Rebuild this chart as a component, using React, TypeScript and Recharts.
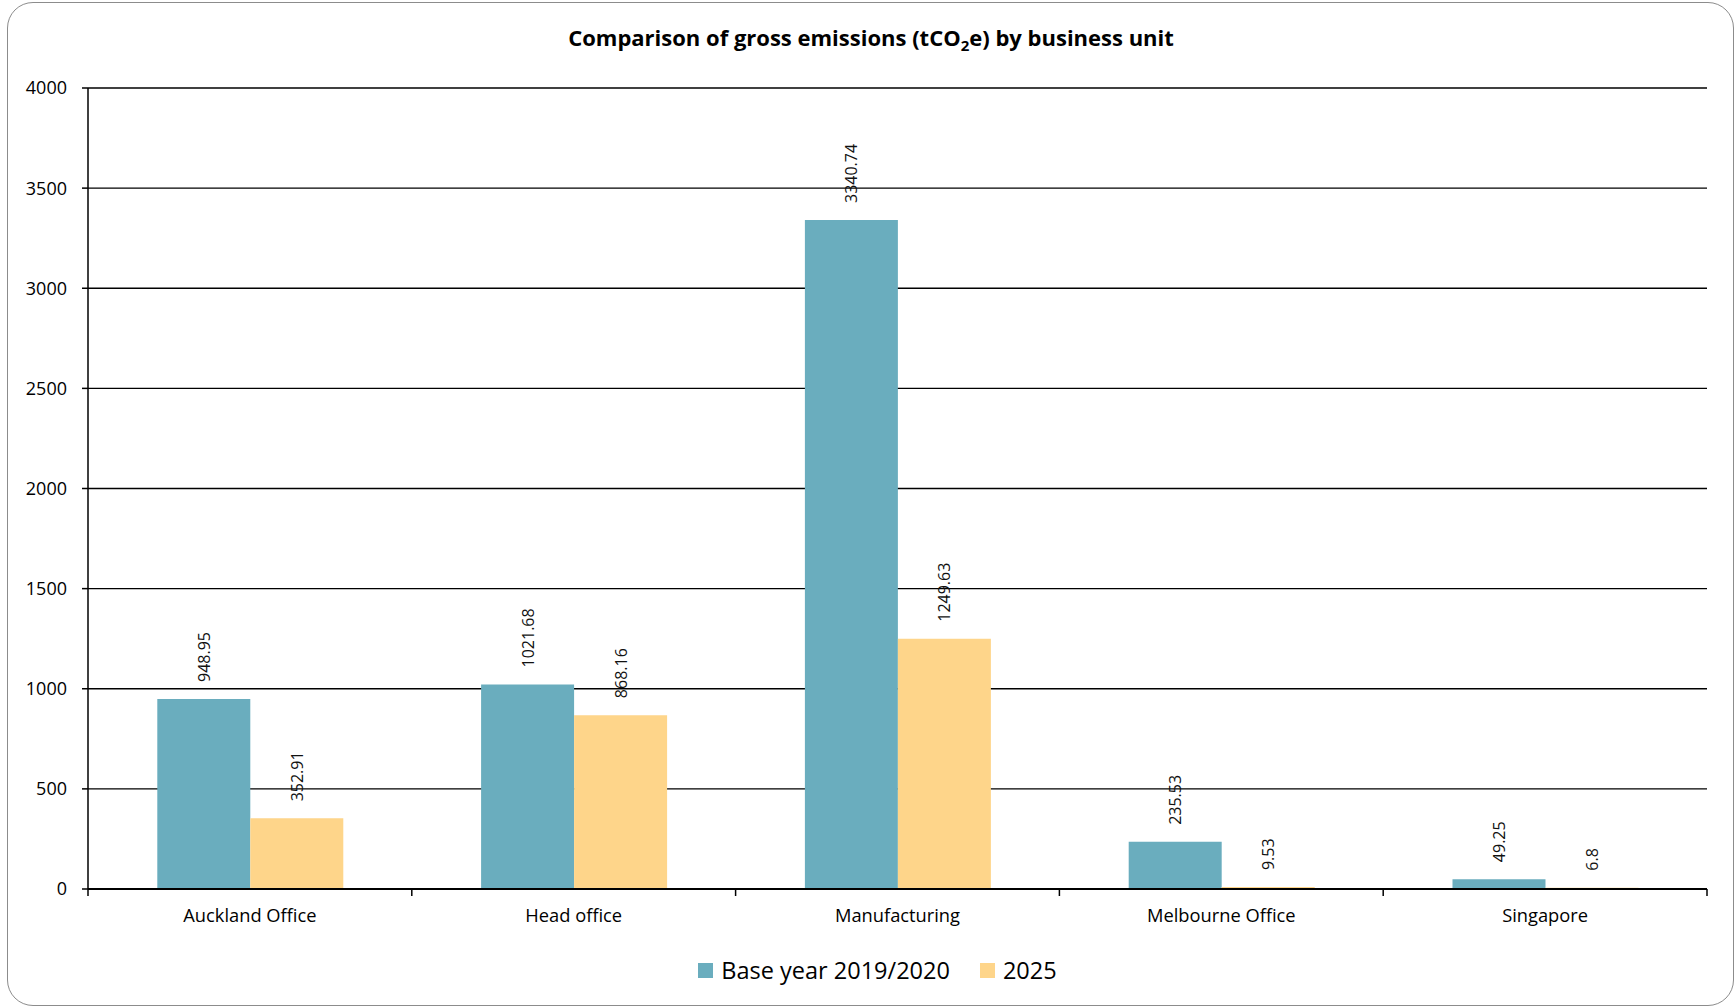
import React from 'react';
import {
  BarChart,
  Bar,
  XAxis,
  YAxis,
  CartesianGrid,
  Legend,
  LabelList
} from 'recharts';

const units = ['Auckland Office', 'Head office', 'Manufacturing', 'Melbourne Office', 'Singapore'];
const baseYear = [948.95, 1021.68, 3340.74, 235.53, 49.25];
const year2025 = [352.91, 868.16, 1249.63, 9.53, 6.8];
const yTicks = [0, 500, 1000, 1500, 2000, 2500, 3000, 3500, 4000];
const seriesOrder = ['base', 'y2025'];

const BLUE = '#6AADBE';
const ORANGE = '#FED58A';
const FONT = '"Open Sans", sans-serif';

const data = units.map((unit, i) => ({
  unit,
  base: baseYear[i],
  y2025: year2025[i]
}));

const CategoryTick = (props: any) => {
  const { x, y, payload, index, visibleTicksCount } = props;
  const half = payload.offset ?? 0;
  const last = index === visibleTicksCount - 1;
  return (
    <g>
      <line x1={x - half} x2={x - half} y1={y} y2={y + 7} stroke="#000" strokeWidth={1.5} />
      {last && <line x1={x + half} x2={x + half} y1={y} y2={y + 7} stroke="#000" strokeWidth={1.5} />}
      <text x={x} y={y + 33} textAnchor="middle" fontSize={18.3} fontFamily={FONT} fill="#000">
        {payload.value}
      </text>
    </g>
  );
};

const VerticalLabel = (props: any) => {
  const { x, y, width, value } = props;
  const cx = x + width / 2;
  const ty = y - 17;
  return (
    <text
      x={cx}
      y={ty}
      transform={`rotate(-90, ${cx}, ${ty})`}
      textAnchor="start"
      dominantBaseline="central"
      fontSize={16}
      fontFamily={FONT}
      fill="#111"
    >
      {value}
    </text>
  );
};

const LegendContent = (props: any) => {
  const items = [...(props.payload || [])].sort(
    (a: any, b: any) => seriesOrder.indexOf(a.dataKey) - seriesOrder.indexOf(b.dataKey)
  );
  return (
    <div style={{ display: 'flex', justifyContent: 'center', alignItems: 'center', fontFamily: FONT }}>
      {items.map((p: any) => (
        <div key={p.value} style={{ display: 'flex', alignItems: 'center', margin: '0 15px' }}>
          <span style={{ width: 15, height: 15, background: p.color, display: 'inline-block', marginRight: 8 }} />
          <span style={{ fontSize: 23.5, color: '#000' }}>{p.value}</span>
        </div>
      ))}
    </div>
  );
};

export default function App() {
  return (
    <div style={{ position: 'absolute', left: 0, top: 0, width: 1735, height: 1008, overflow: 'hidden', background: '#fff' }}>
      <div
        style={{
          position: 'absolute',
          left: 7,
          top: 2,
          width: 1727,
          height: 1004,
          border: '1.5px solid #8c8c8c',
          borderRadius: 26,
          boxSizing: 'border-box'
        }}
      />
      <div
        style={{
          position: 'absolute',
          left: 0,
          width: 1742,
          top: 22,
          textAlign: 'center',
          fontFamily: FONT,
          fontWeight: 700,
          fontSize: 22,
          color: '#000'
        }}
      >
        Comparison of gross emissions (tCO<sub style={{ fontSize: 15 }}>2</sub>e) by business unit
      </div>
      <BarChart
        width={1735}
        height={1008}
        data={data}
        margin={{ top: 88, right: 28, left: 0, bottom: 79 }}
        barCategoryGap="21.4%"
        barGap={0}
      >
        <CartesianGrid vertical={false} stroke="#000" strokeWidth={1.3} />
        <XAxis
          dataKey="unit"
          height={40}
          axisLine={{ stroke: '#000', strokeWidth: 2 }}
          tickLine={false}
          tickSize={0}
          tickMargin={0}
          interval={0}
          tick={<CategoryTick />}
        />
        <YAxis
          width={88}
          domain={[0, 4000]}
          ticks={yTicks}
          interval={0}
          axisLine={{ stroke: '#000', strokeWidth: 1.5 }}
          tickLine={{ stroke: '#000', strokeWidth: 1.5 }}
          tickSize={6}
          tickMargin={15}
          tick={{ fontSize: 18, fontFamily: FONT, fill: '#000' }}
        />
        <Legend
          verticalAlign="middle"
          layout="horizontal"
          content={<LegendContent />}
          wrapperStyle={{ top: 954, left: 10, width: 1735 }}
        />
        <Bar dataKey="base" name="Base year 2019/2020" fill={BLUE} isAnimationActive={false}>
          <LabelList dataKey="base" content={<VerticalLabel />} />
        </Bar>
        <Bar dataKey="y2025" name="2025" fill={ORANGE} isAnimationActive={false}>
          <LabelList dataKey="y2025" content={<VerticalLabel />} />
        </Bar>
      </BarChart>
    </div>
  );
}
